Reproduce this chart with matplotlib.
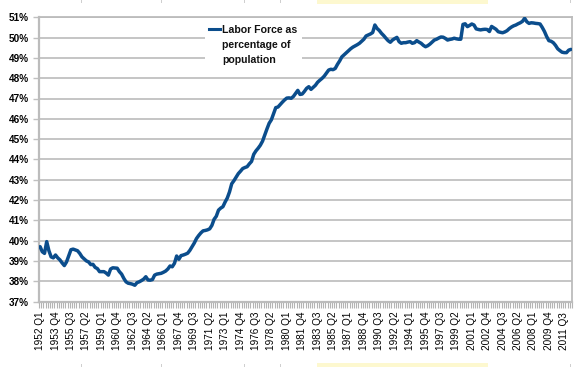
import matplotlib
matplotlib.use('Agg')
import matplotlib.pyplot as plt
import numpy as np
from matplotlib.lines import Line2D
from matplotlib.patches import Rectangle

plt.rcParams['font.family'] = ['Liberation Sans', 'DejaVu Sans']

start_year = 1952
# Labor force as percentage of population, quarterly from 1952 Q1
values = [
    39.70, 39.45, 39.37, 39.95,  # 1952
    39.50, 39.20, 39.15, 39.29,  # 1953
    39.15, 39.05, 38.90, 38.77,  # 1954
    38.95, 39.25, 39.55, 39.58,  # 1955
    39.54, 39.50, 39.37, 39.20,  # 1956
    39.10, 39.00, 38.95, 38.82,  # 1957
    38.83, 38.68, 38.62, 38.47,  # 1958
    38.47, 38.47, 38.40, 38.30,  # 1959
    38.60, 38.66, 38.65, 38.64,  # 1960
    38.47, 38.35, 38.14, 37.97,  # 1961
    37.90, 37.88, 37.85, 37.80,  # 1962
    37.93, 37.97, 38.03, 38.10,  # 1963
    38.22, 38.06, 38.05, 38.08,  # 1964
    38.30, 38.35, 38.37, 38.39,  # 1965
    38.44, 38.50, 38.60, 38.75,  # 1966
    38.71, 38.88, 39.24, 39.08,  # 1967
    39.26, 39.29, 39.33, 39.38,  # 1968
    39.52, 39.70, 39.88, 40.10,  # 1969
    40.25, 40.38, 40.48, 40.50,  # 1970
    40.53, 40.58, 40.75, 41.05,  # 1971
    41.20, 41.50, 41.60, 41.67,  # 1972
    41.90, 42.10, 42.40, 42.80,  # 1973
    42.95, 43.12, 43.30, 43.42,  # 1974
    43.55, 43.60, 43.64, 43.78,  # 1975
    43.90, 44.25, 44.42, 44.55,  # 1976
    44.70, 44.90, 45.20, 45.50,  # 1977
    45.78, 45.95, 46.25, 46.55,  # 1978
    46.58, 46.70, 46.82, 46.93,  # 1979
    47.02, 47.03, 47.01, 47.10,  # 1980
    47.25, 47.40, 47.20, 47.22,  # 1981
    47.35, 47.50, 47.58, 47.45,  # 1982
    47.55, 47.65, 47.80, 47.90,  # 1983
    47.99, 48.10, 48.25, 48.40,  # 1984
    48.44, 48.42, 48.48, 48.68,  # 1985
    48.85, 49.05, 49.15, 49.25,  # 1986
    49.35, 49.45, 49.53, 49.59,  # 1987
    49.65, 49.72, 49.82, 49.92,  # 1988
    50.08, 50.13, 50.18, 50.25,  # 1989
    50.62, 50.45, 50.35, 50.21,  # 1990
    50.10, 49.97, 49.85, 49.77,  # 1991
    49.88, 49.95, 50.01, 49.80,  # 1992
    49.72, 49.75, 49.75, 49.78,  # 1993
    49.80, 49.72, 49.75, 49.85,  # 1994
    49.78, 49.72, 49.62, 49.55,  # 1995
    49.60, 49.68, 49.78, 49.88,  # 1996
    49.92, 49.98, 50.03, 50.02,  # 1997
    49.96, 49.88, 49.91, 49.93,  # 1998
    49.97, 49.94, 49.92, 49.92,  # 1999
    50.65, 50.68, 50.54, 50.60,  # 2000
    50.67, 50.62, 50.43, 50.40,  # 2001
    50.38, 50.40, 50.41, 50.40,  # 2002
    50.30, 50.55, 50.48, 50.41,  # 2003
    50.29, 50.26, 50.24, 50.28,  # 2004
    50.34, 50.44, 50.52, 50.58,  # 2005
    50.62, 50.68, 50.73, 50.80,  # 2006
    50.95, 50.78, 50.70, 50.73,  # 2007
    50.72, 50.70, 50.69, 50.67,  # 2008
    50.50, 50.30, 50.05, 49.85,  # 2009
    49.82, 49.75, 49.62, 49.45,  # 2010
    49.36, 49.28, 49.26, 49.26,  # 2011
    49.38, 49.42,                # 2012
]
quarters = [f"{start_year + i // 4} Q{i % 4 + 1}" for i in range(len(values))]
tick_labels = ["1952 Q1", "1953 Q4", "1955 Q3", "1957 Q2", "1959 Q1", "1960 Q4",
               "1962 Q3", "1964 Q2", "1966 Q1", "1967 Q4", "1969 Q3", "1971 Q2",
               "1973 Q1", "1974 Q4", "1976 Q3", "1978 Q2", "1980 Q1", "1981 Q4",
               "1983 Q3", "1985 Q2", "1987 Q1", "1988 Q4", "1990 Q3", "1992 Q2",
               "1994 Q1", "1995 Q4", "1997 Q3", "1999 Q2", "2001 Q1", "2002 Q4",
               "2004 Q3", "2006 Q2", "2008 Q1", "2009 Q4", "2011 Q3"]
y_ticks = [37, 38, 39, 40, 41, 42, 43, 44, 45, 46, 47, 48, 49, 50, 51]
series_name = "Labor Force as\npercentage of\npopulation"

W, H = 580, 367
fig = plt.figure(figsize=(W / 100, H / 100), dpi=100)
fig.patch.set_facecolor('white')

def fig_rect(x0, y0, x1, y1, color, z=0):
    fig.add_artist(Rectangle((x0 / W, 1 - y1 / H), (x1 - x0) / W, (y1 - y0) / H,
                             transform=fig.transFigure, facecolor=color,
                             edgecolor='none', zorder=z))

# faint screenshot edge marks
for yy0, yy1 in [(0, 4), (363, 367)]:
    fig_rect(316.5, yy0, 488, yy1, '#fdf8cf')
for xm in [81, 162, 244, 280, 570]:
    fig_rect(xm - 0.5, 0, xm + 0.5, 3, '#cfcfcf')
    fig_rect(xm - 0.5, 364, xm + 0.5, 367, '#cfcfcf')

ax = fig.add_axes([39 / W, (H - 301.5) / H, (572 - 39) / W, (301.5 - 17.3) / H])
N = len(values)
x = np.arange(N)
line_color = '#0b4d8c'
grid_color = '#c0c0c0'
ax.plot(x, values, color=line_color, lw=2.5, solid_capstyle='round', zorder=3)

ax.set_xlim(-0.5, N - 0.5)
ax.set_ylim(37, 51)
ax.set_yticks(y_ticks)
ax.set_yticklabels([f"{v}%" for v in y_ticks], fontsize=7.2, fontweight='bold')
ax.grid(axis='y', color=grid_color, lw=1.3, zorder=0)
ax.set_axisbelow(True)

pos = [quarters.index(t) for t in tick_labels]
ax.set_xticks(pos)
ax.set_xticklabels(tick_labels, rotation=90, fontsize=7.2)
ax.set_xticks(np.arange(-0.5, N, 1.0), minor=True)
ax.tick_params(axis='x', which='major', length=0, pad=7.3)
ax.tick_params(axis='x', which='minor', length=4.2, width=0.8, color='#b4b4b4')
ax.tick_params(axis='y', length=4.3, width=1.0, color=grid_color, pad=2.9)

for s in ['left', 'bottom', 'right', 'top']:
    ax.spines[s].set_color('#bcbcbc')
ax.spines['left'].set_linewidth(1.6)
ax.spines['bottom'].set_linewidth(1.6)
ax.spines['right'].set_linewidth(1.3)
ax.spines['top'].set_linewidth(1.3)

# legend (manual, white box, handle aligned with first line)
fig_rect(205, 22, 302, 66, 'white', z=5)
lx0, lx1, ly = 209.3, 220, 29.3
fig.add_artist(Line2D([lx0 / W, lx1 / W], [1 - ly / H, 1 - ly / H],
                      color=line_color, lw=2.2, transform=fig.transFigure, zorder=6))
for k, txt in enumerate(series_name.split("\n")):
    fig.text(222.5 / W, 1 - (33.3 + 14.7 * k) / H, txt, fontsize=7.6,
             fontweight='bold', ha='left', va='baseline', color='#111111', zorder=7)

fig.savefig('out.png', dpi=100)
